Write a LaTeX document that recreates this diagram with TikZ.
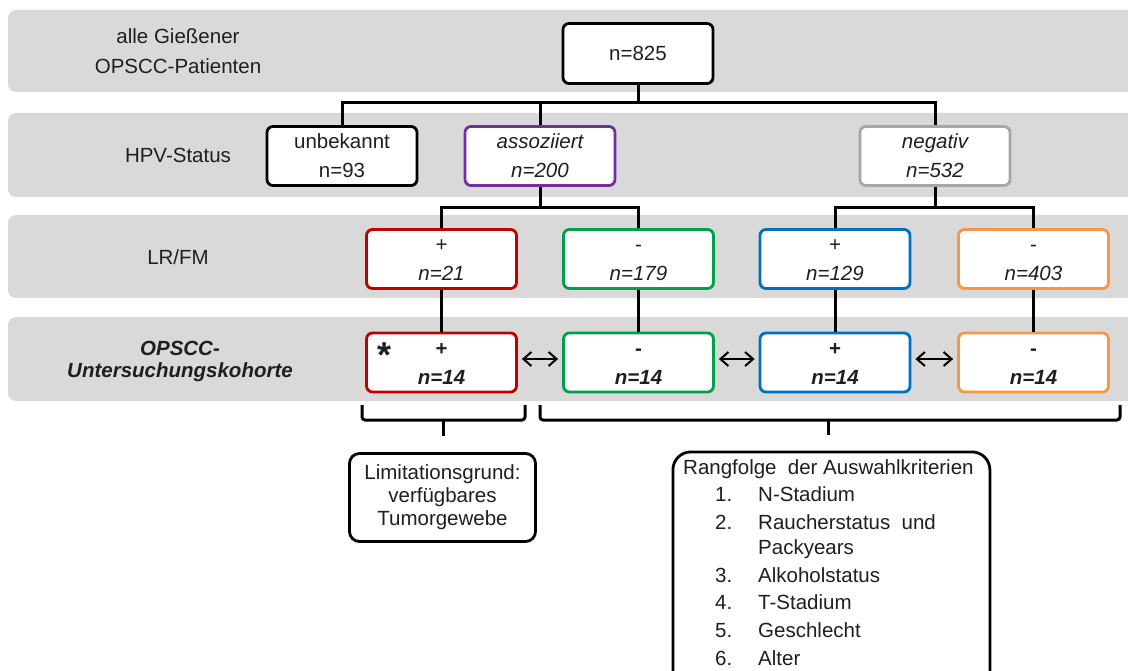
\documentclass[tikz,border=0pt]{standalone}
\usepackage{fontspec}
\setmainfont{Liberation Sans}
\usetikzlibrary{arrows.meta}
\definecolor{bandgray}{HTML}{D9D9D9}
\definecolor{cred}{HTML}{C00000}
\definecolor{cpurple}{HTML}{7030A0}
\definecolor{cgray}{HTML}{A6A6A6}
\definecolor{cgreen}{HTML}{00A04A}
\definecolor{cblue}{HTML}{0070C0}
\definecolor{corange}{HTML}{F79646}
\definecolor{txt}{HTML}{1F1F1F}
\newcommand\boxfnt{\fontsize{20.5}{29}\selectfont}
\newcommand\bst{\rule[-7pt]{0pt}{29pt}}
\begin{document}
\begin{tikzpicture}[x=1pt,y=-1pt,
  bandrect/.style={fill=bandgray, rounded corners=8pt},
  cbox/.style={draw=black, line width=2.8pt, rounded corners=6pt, fill=white,
    minimum width=150pt, minimum height=59pt, inner sep=0pt, align=center,
    font=\boxfnt, text=txt},
  lbl/.style={font=\boxfnt, text=txt, align=center, inner sep=0pt},
  conn/.style={draw=black, line width=3pt},
  dbl/.style={draw=black, line width=2pt,
    {Straight Barb[length=8pt,width=14pt]}-{Straight Barb[length=8pt,width=14pt]},
    shorten >=4pt, shorten <=4pt},
  brace/.style={draw=black, line width=3pt, rounded corners=3pt},
  note/.style={draw=black, line width=2.8pt, rounded corners=10pt, fill=white,
    align=center, inner sep=0pt, text=txt},
]
\useasboundingbox (0,0) rectangle (1128,671);
\clip (0,0) rectangle (1128,671);

% bands
\fill[bandrect] (8,10) rectangle (1150,92);
\fill[bandrect] (8,113) rectangle (1150,197);
\fill[bandrect] (8,215) rectangle (1150,298);
\fill[bandrect] (8,317) rectangle (1150,401);

% band labels
\node[lbl, font=\fontsize{20.5}{30}\selectfont] (l1) at (178,53) {\strut alle Gießener\\\strut OPSCC-Patienten};
\node[lbl] (l2) at (178,155) {HPV-Status};
\node[lbl] (l3) at (178,257) {LR/FM};
\node[lbl, font=\fontsize{20.5}{22}\selectfont\bfseries\itshape] (l4) at (180,361) {OPSCC-\\Untersuchungskohorte};

% boxes
\node[cbox, minimum height=60pt] (n825) at (638,53.5) {n=825};
\node[cbox] (unb) at (342,156) {\bst unbekannt\\\bst n=93};
\node[cbox, draw=cpurple, font=\boxfnt\itshape] (ass) at (540,156) {\bst assoziiert\\\bst n=200};
\node[cbox, draw=cgray, font=\boxfnt\itshape] (neg) at (935,156) {\bst negativ\\\bst n=532};

\node[cbox, draw=cred] (lr1) at (441.5,259) {\bst +\\\bst\itshape n=21};
\node[cbox, draw=cgreen] (lr2) at (638.5,259) {\bst -\\\bst\itshape n=179};
\node[cbox, draw=cblue] (lr3) at (835,259) {\bst +\\\bst\itshape n=129};
\node[cbox, draw=corange] (lr4) at (1033.5,259) {\bst -\\\bst\itshape n=403};

\node[cbox, draw=cred, font=\boxfnt\bfseries] (co1) at (441.5,362.5) {\bst +\\\bst\itshape n=14};
\node[cbox, draw=cgreen, font=\boxfnt\bfseries] (co2) at (638.5,362.5) {\bst -\\\bst\itshape n=14};
\node[cbox, draw=cblue, font=\boxfnt\bfseries] (co3) at (835,362.5) {\bst +\\\bst\itshape n=14};
\node[cbox, draw=corange, font=\boxfnt\bfseries] (co4) at (1033.5,362.5) {\bst -\\\bst\itshape n=14};

\node[lbl, font=\fontsize{36}{36}\selectfont\bfseries, anchor=base] (ast) at (385,367) {*};

% connectors
\coordinate (j1) at (638,103);
\coordinate (j2) at (540,208);
\coordinate (j3) at (935,208);
\draw[conn] (n825.south) -- (j1);
\draw[conn] (unb.north) |- (j1) -| (neg.north);
\draw[conn] (ass.north) -- (ass.north |- j1);
\draw[conn] (ass.south) -- (j2);
\draw[conn] (lr1.north) |- (j2) -| (lr2.north);
\draw[conn] (neg.south) -- (j3);
\draw[conn] (lr3.north) |- (j3) -| (lr4.north);
\draw[conn] (lr1.south) -- (co1.north);
\draw[conn] (lr2.south) -- (co2.north);
\draw[conn] (lr3.south) -- (co3.north);
\draw[conn] (lr4.south) -- (co4.north);

\draw[dbl] ([yshift=3.5pt]co1.east) -- ([yshift=3.5pt]co2.west);
\draw[dbl] ([yshift=3.5pt]co2.east) -- ([yshift=3.5pt]co3.west);
\draw[dbl] ([yshift=3.5pt]co3.east) -- ([yshift=3.5pt]co4.west);

% braces
\draw[brace] (362,405) -- (362,420) -- (525,420) -- (525,405);
\draw[brace] (443,420) -- (443,436);
\draw[brace] (540,405) -- (540,420) -- (1120,420) -- (1120,405);
\draw[brace] (828,420) -- (828,435);

% notes
\node[note, minimum width=186pt, minimum height=88pt, font=\fontsize{20.5}{23}\selectfont] (lim) at (442.5,497.5)
  {Limitationsgrund:\\verfügbares\\Tumorgewebe};
\node[note, rounded corners=18pt, minimum width=317pt, minimum height=300pt, anchor=north west] (rang) at (671.5,450.5) {};

\node[lbl, anchor=base west] (r0) at (683,474) {Rangfolge\hspace{0.55em}der Auswahlkriterien};
\node[lbl, anchor=base west] (n1) at (715,501) {1.};
\node[lbl, anchor=base west] (t1) at (758,501) {N-Stadium};
\node[lbl, anchor=base west] (n2) at (715,529) {2.};
\node[lbl, anchor=base west] (t2) at (758,529) {Raucherstatus\hspace{0.55em}und};
\node[lbl, anchor=base west] (t2b) at (758,554) {Packyears};
\node[lbl, anchor=base west] (n3) at (715,582) {3.};
\node[lbl, anchor=base west] (t3) at (758,582) {Alkoholstatus};
\node[lbl, anchor=base west] (n4) at (715,609) {4.};
\node[lbl, anchor=base west] (t4) at (758,609) {T-Stadium};
\node[lbl, anchor=base west] (n5) at (715,637) {5.};
\node[lbl, anchor=base west] (t5) at (758,637) {Geschlecht};
\node[lbl, anchor=base west] (n6) at (715,665) {6.};
\node[lbl, anchor=base west] (t6) at (758,665) {Alter};
\end{tikzpicture}
\end{document}
